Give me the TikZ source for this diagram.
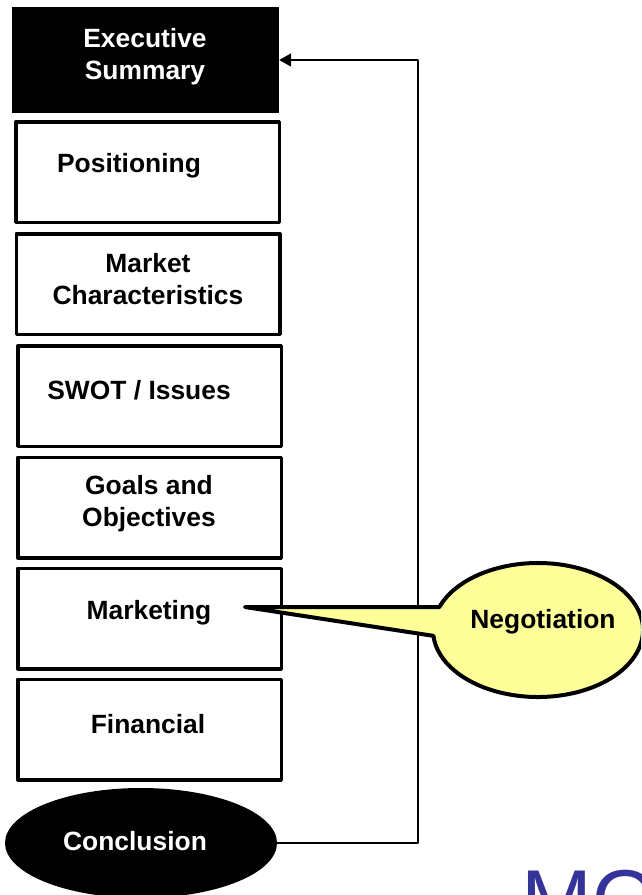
\documentclass[tikz,border=0pt]{standalone}
\usepackage{fontspec}
\setmainfont{Liberation Sans}
\usetikzlibrary{arrows.meta}
\usetikzlibrary{positioning}
\usetikzlibrary{shapes.geometric}
\definecolor{notefill}{RGB}{255,255,153}
\definecolor{moblue}{RGB}{51,51,153}

\begin{document}
\begin{tikzpicture}[line cap=round,line join=round,>={Triangle[length=12pt,width=13pt]},x=1pt,y=-1pt,
  planbox/.style={draw=black,line width=3.5pt,fill=white,minimum width=263.5pt,minimum height=100.5pt,inner sep=0pt},
  darkbox/.style={fill=black,minimum width=267pt,minimum height=106pt,inner sep=0pt},
  darkoval/.style={ellipse,fill=black,minimum width=272pt,minimum height=110pt,inner sep=0pt},
  lbl/.style={font=\fontsize{26.4}{32}\selectfont\bfseries,align=center,inner sep=0pt},
  wlbl/.style={lbl,text=white}]
\useasboundingbox (0,0) rectangle (641,895);
\clip (0,0) rectangle (641,895);
% the stack of plan sections
\node[darkbox] (exec) at (145.5,60) {};
\node[wlbl] (exect) at (145,57) {Executive\\Summary};
\node[planbox] (pos) at (147.5,172) {};
\node[lbl] (post) at (129,166) {Positioning};
\node[planbox] (mkt) at (148,284) {};
\node[lbl] (mktt) at (148,279) {Market\\Characteristics};
\node[planbox] (swot) at (149.5,396) {};
\node[lbl] (swott) at (139,390) {SWOT / Issues};
\node[planbox] (goals) at (149.5,507.5) {};
\node[lbl] (goalst) at (149,504) {Goals and\\Objectives};
\node[planbox] (mark) at (149.5,618.5) {};
\node[lbl] (markt) at (149,613) {Marketing};
\node[planbox] (fin) at (149.5,729.5) {};
\node[lbl] (fint) at (148,724) {Financial};
\node[darkoval] (concl) at (141,843) {};
\node[wlbl] (conclt) at (135,841) {Conclusion};
% loop back to the top
\draw[->,line width=1.8pt] (concl.east) -- ++(141,0) |- (exec.east);
% speech bubble
\coordinate (tip) at (245,607);
\coordinate (negc) at (538,630);
\draw[line width=4pt,fill=notefill] (tip) -- ([shift={(200:105 and 67)}]negc)
  arc[start angle=200,end angle=535,x radius=105,y radius=67] -- cycle;
\node[lbl] (neg) at (543,622) {Negotiation};
\node[anchor=base west,inner sep=0pt,text=moblue,font=\fontsize{85}{90}\selectfont] (mo) at (521,929) {MO};
\end{tikzpicture}
\end{document}
